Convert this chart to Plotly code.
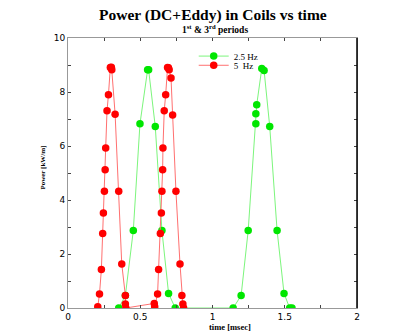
import plotly.graph_objects as go

# 5 Hz (red) - 1st & 3rd periods
t_5hz = [0.206, 0.218, 0.231, 0.240, 0.245, 0.252, 0.257, 0.261, 0.270, 0.280, 0.293, 0.300, 0.303,
         0.326, 0.351, 0.372, 0.397, 0.397, 0.400,
         0.597, 0.600, 0.620, 0.627, 0.639, 0.646, 0.650, 0.655, 0.657, 0.666, 0.676, 0.689, 0.695, 0.700, 0.713,
         0.724, 0.747, 0.775, 0.788, 0.795, 0.800]
p_5hz = [0.05, 0.52, 1.43, 2.76, 3.52, 4.32, 5.12, 5.93, 7.31, 7.90, 8.91, 8.92, 8.82,
         7.18, 4.32, 1.63, 0.46, 0.15, 0.0,
         0.17, 0.05, 0.52, 1.43, 2.76, 3.52, 4.32, 5.12, 5.93, 7.31, 7.90, 8.91, 8.90, 8.82, 8.52,
         7.15, 4.32, 1.63, 0.46, 0.15, 0.0]

# 2.5 Hz (green)
t_25hz = [0.351, 0.397, 0.452, 0.498, 0.551, 0.558, 0.604, 0.650, 0.696, 0.742,
          1.143, 1.198, 1.247, 1.300, 1.300, 1.306, 1.341, 1.357, 1.396, 1.447, 1.495, 1.534, 1.550]
p_25hz = [0.0, 0.46, 2.87, 6.82, 8.82, 8.82, 6.72, 2.87, 0.54, 0.0,
          0.0, 0.46, 2.87, 6.82, 7.19, 7.53, 8.87, 8.80, 6.72, 2.87, 0.54, 0.0, 0.0]

serif = "Liberation Serif"

fig = go.Figure()
fig.add_trace(go.Scatter(x=t_25hz, y=p_25hz, mode='lines+markers', name='2.5 Hz',
                         line=dict(color='#7cf57c', width=1),
                         marker=dict(color='#00e600', size=7.5), legend='legend'))
fig.add_trace(go.Scatter(x=t_5hz, y=p_5hz, mode='lines+markers', name='5  Hz',
                         line=dict(color='#ff7070', width=1),
                         marker=dict(color='#ff0000', size=7.5), legend='legend2'))

# page body has an 8px margin, so the figure is a bit smaller than the window
leg = dict(xanchor='left', yanchor='middle', bgcolor='rgba(0,0,0,0)',
           font=dict(family=serif, size=9), borderwidth=0)
fig.update_layout(
    width=397, height=328,
    margin=dict(l=60, r=48, t=30, b=28, autoexpand=False),
    plot_bgcolor='white', paper_bgcolor='white',
    font=dict(family=serif, size=9, color='black'),
    showlegend=True,
    legend=dict(x=0.435, y=0.933, **leg),
    legend2=dict(x=0.435, y=0.899, **leg),
)
fig.add_annotation(text="<b>Power (DC+Eddy) in Coils vs time</b>", xref='paper', yref='paper',
                   x=0.5, y=1.0, yanchor='middle', yshift=23, showarrow=False,
                   font=dict(family=serif, size=15.5))
fig.add_annotation(text="<b>1<sup>st</sup> &amp; 3<sup>rd</sup> periods</b>", xref='paper', yref='paper',
                   x=0.507, y=1.0, yanchor='middle', yshift=9, showarrow=False,
                   font=dict(family=serif, size=9.5))
fig.add_annotation(text="<b>time [msec]</b>", xref='paper', yref='paper',
                   x=0.562, y=0, yanchor='middle', yshift=-19, showarrow=False,
                   font=dict(family=serif, size=8.5))
fig.add_annotation(text="<b>Power [kW/m]</b>", xref='paper', yref='paper', textangle=-90,
                   x=0, xanchor='center', xshift=-25, y=0.52, showarrow=False,
                   font=dict(family=serif, size=7))

fig.update_xaxes(range=[0, 2], tick0=0, dtick=0.5, ticks='inside', ticklen=3, automargin=False,
                 showline=True, linecolor='#999999', linewidth=1, mirror='allticks',
                 showgrid=False, zeroline=False,
                 minor=dict(ticks='inside', dtick=0.25, ticklen=3, tickcolor='#444444'),
                 tickfont=dict(family='DejaVu Sans', size=9))
fig.update_yaxes(range=[0, 10], tick0=0, dtick=2, ticks='inside', ticklen=3, automargin=False,
                 showline=True, linecolor='#999999', linewidth=1, mirror='allticks',
                 showgrid=False, zeroline=False,
                 minor=dict(ticks='inside', dtick=1, ticklen=3, tickcolor='#444444'),
                 tickfont=dict(family='DejaVu Sans', size=9))

# dark right frame edge as in the original rendering
fig.add_shape(type='line', xref='paper', yref='paper', x0=1, x1=1, y0=0, y1=1,
              line=dict(color='black', width=1.5))

fig.write_html("out.html")
